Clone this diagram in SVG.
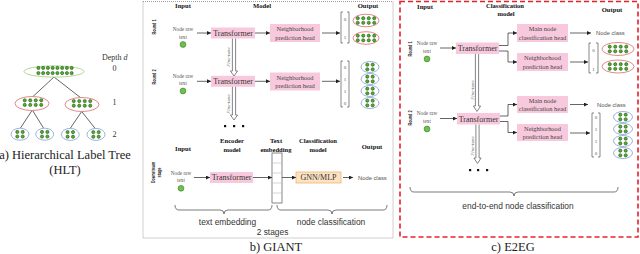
<svg xmlns="http://www.w3.org/2000/svg" xmlns:xlink="http://www.w3.org/1999/xlink" width="640" height="254" viewBox="0 0 640 254">
<style>
.serif{font-family:"Liberation Serif","Times New Roman",Times,"DejaVu Serif",serif}
.hdr{font-family:"Liberation Serif","Times New Roman",Times,"DejaVu Serif",serif;font-weight:bold;font-size:6.6px;fill:#111;text-anchor:middle}
.rnd{font-family:"Liberation Sans",Arial,sans-serif;font-weight:bold;font-size:4.6px;fill:#222;text-anchor:middle}
.raw{font-family:"Liberation Serif","Times New Roman",Times,"DejaVu Serif",serif;font-size:5.2px;fill:#555;text-anchor:middle}
.tf{font-family:"Liberation Serif","Times New Roman",Times,"DejaVu Serif",serif;font-size:8px;fill:#333;text-anchor:middle}
.hd{font-family:"Liberation Serif","Times New Roman",Times,"DejaVu Serif",serif;font-size:6.4px;fill:#444;text-anchor:middle}
.nc{font-family:"Liberation Sans",Arial,sans-serif;font-size:5.8px;fill:#555}
.vn{font-family:"Liberation Serif","Times New Roman",Times,"DejaVu Serif",serif;font-size:5px;fill:#555;text-anchor:middle}
.ft{font-family:"Liberation Serif","Times New Roman",Times,"DejaVu Serif",serif;font-style:italic;font-size:5px;fill:#555;text-anchor:middle}
.big{font-family:"Liberation Sans",Arial,sans-serif;font-size:8.4px;fill:#333;text-anchor:middle}
.cap{font-family:"Liberation Serif","Times New Roman",Times,"DejaVu Serif",serif;font-size:12.5px;fill:#222;text-anchor:middle}
.pink{fill:#f8c9dc}
.orange{fill:#fde3c3;stroke:#f0b46a;stroke-width:0.8}
.eg{fill:#fff;stroke:#a9d18e;stroke-width:0.9}
.er{fill:#fff;stroke:#e07b7b;stroke-width:0.9}
.eb{fill:#fff;stroke:#8eaadb;stroke-width:0.9}
.dot{fill:#4fb02a;stroke:#1d4a10;stroke-width:0.55}
.in{fill:#6cc24a;stroke:#3a7a2a;stroke-width:0.6}
.ln{fill:none;stroke:#333;stroke-width:0.75}
.arr{fill:none;stroke:#333;stroke-width:0.75;marker-end:url(#ah)}
.fta{fill:#fff;stroke:#777;stroke-width:0.9}
.brk{fill:none;stroke:#555;stroke-width:0.7}
.brace{fill:none;stroke:#444;stroke-width:0.7}
.sq{fill:#111}
</style>
<defs>
<marker id="ah" viewBox="0 0 6 6" refX="6" refY="3" markerWidth="4" markerHeight="4" orient="auto" markerUnits="userSpaceOnUse"><path d="M0,0 L6,3 L0,6 z" fill="#222"/></marker>
<circle id="d" r="1.6"/>
<g id="c2">
<use href="#d" class="dot" x="-2.7" y="-2.3"/><use href="#d" class="dot" x="2.7" y="-2.3"/>
<use href="#d" class="dot" x="-2.7" y="2.3"/><use href="#d" class="dot" x="2.7" y="2.3"/>
</g>
<g id="c4">
<use href="#d" class="dot" x="-8.25" y="-2.3"/><use href="#d" class="dot" x="-2.75" y="-2.3"/><use href="#d" class="dot" x="2.75" y="-2.3"/><use href="#d" class="dot" x="8.25" y="-2.3"/>
<use href="#d" class="dot" x="-8.25" y="2.3"/><use href="#d" class="dot" x="-2.75" y="2.3"/><use href="#d" class="dot" x="2.75" y="2.3"/><use href="#d" class="dot" x="8.25" y="2.3"/>
</g>
<g id="c8">
<use href="#d" class="dot" x="-16.6" y="-2.6"/><use href="#d" class="dot" x="-11.85" y="-2.6"/><use href="#d" class="dot" x="-7.1" y="-2.6"/><use href="#d" class="dot" x="-2.35" y="-2.6"/><use href="#d" class="dot" x="2.4" y="-2.6"/><use href="#d" class="dot" x="7.15" y="-2.6"/><use href="#d" class="dot" x="11.9" y="-2.6"/><use href="#d" class="dot" x="16.65" y="-2.6"/>
<use href="#d" class="dot" x="-16.6" y="2.6"/><use href="#d" class="dot" x="-11.85" y="2.6"/><use href="#d" class="dot" x="-7.1" y="2.6"/><use href="#d" class="dot" x="-2.35" y="2.6"/><use href="#d" class="dot" x="2.4" y="2.6"/><use href="#d" class="dot" x="7.15" y="2.6"/><use href="#d" class="dot" x="11.9" y="2.6"/><use href="#d" class="dot" x="16.65" y="2.6"/>
</g>
</defs>
<rect width="640" height="254" fill="#fff"/>

<!-- (a) Hierarchical Label Tree -->
<g id="hlt">
<g id="hlt-edges">
<path class="ln" d="M54,77 L33,96.5 M54,77 L81,98 M32.3,110 L20.5,128 M32.3,110 L43.5,128 M81.7,111.5 L70.3,128.3 M81.7,111.5 L95,128.3"/>
</g>
<g id="hlt-root"><ellipse class="eg" cx="54" cy="71.5" rx="30" ry="5.6"/><use href="#c8" x="55" y="70.5"/></g>
<g id="hlt-d1a"><ellipse class="er" cx="32" cy="103.5" rx="17" ry="7"/><use href="#c4" x="33" y="102.6"/></g>
<g id="hlt-d1b"><ellipse class="er" cx="82" cy="104.5" rx="17" ry="7"/><use href="#c4" x="82" y="103.4"/></g>
<g id="hlt-d2a"><ellipse class="eb" cx="20" cy="134.2" rx="9" ry="6"/><use href="#c2" x="20" y="134.2"/></g>
<g id="hlt-d2b"><ellipse class="eb" cx="44.7" cy="134.2" rx="9" ry="6"/><use href="#c2" x="44.7" y="134.2"/></g>
<g id="hlt-d2c"><ellipse class="eb" cx="70.3" cy="134.4" rx="9" ry="6"/><use href="#c2" x="70.3" y="134.4"/></g>
<g id="hlt-d2d"><ellipse class="eb" cx="96" cy="134.4" rx="9" ry="6"/><use href="#c2" x="96" y="134.4"/></g>
<text class="serif" x="102" y="59.5" font-size="8" fill="#333">Depth <tspan font-style="italic">d</tspan></text>
<text class="serif" x="114.5" y="71" font-size="8" fill="#333" text-anchor="middle">0</text>
<text class="serif" x="114.5" y="104.5" font-size="8" fill="#333" text-anchor="middle">1</text>
<text class="serif" x="114.5" y="137.2" font-size="8" fill="#333" text-anchor="middle">2</text>
<text class="cap" x="65" y="159">a) Hierarchical Label Tree</text>
<text class="cap" x="65" y="173.5">(HLT)</text>
</g>

<!-- (b) GIANT -->
<g id="giant">
<rect x="143" y="1.5" width="250" height="236.5" fill="none" stroke="#888" stroke-width="0.8" stroke-dasharray="1,1"/>
<text class="hdr" x="183" y="7.8">Input</text>
<text class="hdr" x="262" y="7.8">Model</text>
<text class="hdr" x="368" y="7.8">Output</text>
<text class="rnd" transform="translate(156,27) rotate(-90)" textLength="15" lengthAdjust="spacingAndGlyphs">Round 1</text>
<text class="rnd" transform="translate(156,77) rotate(-90)" textLength="15" lengthAdjust="spacingAndGlyphs">Round 2</text>

<g id="g-in1"><text class="raw" x="183" y="30.5">Node raw</text><text class="raw" x="183" y="38.5">text</text><circle class="in" cx="183" cy="44.5" r="2.9"/></g>
<g id="g-tf1"><rect class="pink" x="211" y="27.5" width="44" height="11"/><text class="tf" x="233" y="35.8">Transformer</text></g>
<g id="g-nh1"><rect class="pink" x="270" y="24" width="50" height="18"/><text class="hd" x="295" y="31.2">Neighborhood</text><text class="hd" x="295" y="39.5">prediction head</text></g>
<g id="g-out1">
<path class="brk" d="M343,12 H341 V43 H343 M347,12 H349 V43 H347"/>
<text class="vn" x="345" y="20.8">0</text><text class="vn" x="345" y="38.8">1</text>
<ellipse class="er" cx="366" cy="20.5" rx="13" ry="6.3"/><use href="#c4" x="366" y="20.5"/>
<ellipse class="er" cx="366" cy="38" rx="13" ry="6.3"/><use href="#c4" x="366" y="38"/>
</g>

<g id="g-in2"><text class="raw" x="183" y="77.5">Node raw</text><text class="raw" x="183" y="85">text</text><circle class="in" cx="183" cy="91" r="2.9"/></g>
<g id="g-tf2"><rect class="pink" x="211" y="75.8" width="44" height="11"/><text class="tf" x="233" y="84">Transformer</text></g>
<g id="g-nh2"><rect class="pink" x="270" y="72.5" width="50" height="18"/><text class="hd" x="295" y="79.7">Neighborhood</text><text class="hd" x="295" y="88">prediction head</text></g>
<g id="g-out2">
<path class="brk" d="M343,61 H341 V107 H343 M347,61 H349 V107 H347"/>
<text class="vn" x="345" y="68.8">0</text><text class="vn" x="345" y="81">1</text><text class="vn" x="345" y="93">1</text><text class="vn" x="345" y="104.8">0</text>
<ellipse class="eb" cx="370" cy="67" rx="9" ry="5.5"/><use href="#c2" x="370" y="67"/>
<ellipse class="eb" cx="370" cy="79" rx="9" ry="5.5"/><use href="#c2" x="370" y="79"/>
<ellipse class="eb" cx="370" cy="91" rx="9" ry="5.5"/><use href="#c2" x="370" y="91"/>
<ellipse class="eb" cx="370" cy="103" rx="9" ry="5.5"/><use href="#c2" x="370" y="103"/>
</g>
<g id="g-more"><rect class="sq" x="224" y="125" width="2.2" height="2.2"/><rect class="sq" x="233" y="125" width="2.2" height="2.2"/><rect class="sq" x="242" y="125" width="2.2" height="2.2"/></g>
<text class="ft" transform="translate(229.5,57) rotate(-90)">Fine-tune</text>
<text class="ft" transform="translate(229.5,104) rotate(-90)">Fine-tune</text>

<text class="hdr" x="183" y="150.5">Input</text>
<text class="hdr" x="232" y="143">Encoder</text><text class="hdr" x="232" y="151.5">model</text>
<text class="hdr" x="276" y="143">Text</text><text class="hdr" x="276" y="151.5">embedding</text>
<text class="hdr" x="318" y="143">Classification</text><text class="hdr" x="318" y="151.5">model</text>
<text class="hdr" x="372" y="148.5">Output</text>
<text class="rnd" transform="translate(154.5,172.5) rotate(-90)" textLength="21" lengthAdjust="spacingAndGlyphs">Downstream</text>
<text class="rnd" transform="translate(161,172.5) rotate(-90)" textLength="10" lengthAdjust="spacingAndGlyphs">stage</text>
<g id="g-in3"><text class="raw" x="181" y="174.5">Node raw</text><text class="raw" x="181" y="182.3">text</text><circle class="in" cx="181" cy="188.3" r="2.9"/></g>
<g id="g-tf3"><rect class="pink" x="210" y="172" width="43" height="11"/><text class="tf" x="231.5" y="180.3">Transformer</text></g>
<g id="g-emb"><rect x="272" y="153" width="10" height="50" fill="#fff" stroke="#555" stroke-width="0.7"/><path d="M272,163 H282 M272,173 H282 M272,183 H282 M272,193 H282" stroke="#bbb" stroke-width="0.6"/></g>
<g id="g-gnn"><rect class="orange" x="296" y="172" width="45" height="11"/><text class="tf" x="318.5" y="180.3" font-size="7.2">GNN/MLP</text></g>
<text class="nc" x="358" y="179.5">Node class</text>
<path class="brace" d="M175,205 Q175,210 179,210 H220 Q224,210 224,214 Q224,210 228,210 H268 Q272,210 272,205"/>
<path class="brace" d="M277,205 Q277,210 281,210 H328 Q332,210 332,214 Q332,210 336,210 H383 Q387,210 387,205"/>
<text class="big" x="227.5" y="224.5">text embedding</text>
<text class="big" x="331" y="224.5">node classification</text>
<text class="big" x="272.5" y="234.5">2 stages</text>
<text class="cap" x="276" y="251">b) GIANT</text>
</g>

<!-- (c) E2EG -->
<g id="e2eg">
<rect x="400" y="1.5" width="238" height="235.5" fill="none" stroke="#e8202a" stroke-width="1.6" stroke-dasharray="5,3"/>
<text class="hdr" x="425" y="9">Input</text>
<text class="hdr" x="505" y="7.5">Classification</text><text class="hdr" x="506" y="16">model</text>
<text class="hdr" x="612" y="11.5">Output</text>
<text class="rnd" transform="translate(412,49) rotate(-90)" textLength="15" lengthAdjust="spacingAndGlyphs">Round 1</text>
<text class="rnd" transform="translate(412,118) rotate(-90)" textLength="15" lengthAdjust="spacingAndGlyphs">Round 2</text>

<g id="e-in1"><text class="raw" x="427" y="44.5">Node raw</text><text class="raw" x="427" y="52.5">text</text><circle class="in" cx="427" cy="59" r="2.9"/></g>
<g id="e-tf1"><rect class="pink" x="456" y="42.5" width="43" height="11.5"/><text class="tf" x="477.5" y="51">Transformer</text></g>
<g id="e-main1"><rect class="pink" x="517" y="24" width="51" height="18"/><text class="hd" x="542.5" y="31.2">Main node</text><text class="hd" x="542.5" y="39.5">classification head</text></g>
<g id="e-nh1"><rect class="pink" x="517" y="53" width="51" height="18"/><text class="hd" x="542.5" y="60.2">Neighborhood</text><text class="hd" x="542.5" y="68.5">prediction head</text></g>
<text class="nc" x="596" y="35">Node class</text>
<g id="e-out1">
<path class="brk" d="M591,43 H589 V73 H591 M596,43 H598 V73 H596"/>
<text class="vn" x="593.5" y="51.8">0</text><text class="vn" x="593.5" y="70.5">1</text>
<ellipse class="er" cx="618" cy="49" rx="16" ry="6.5"/><use href="#c4" x="618" y="49"/>
<ellipse class="er" cx="618" cy="66.5" rx="16" ry="6.5"/><use href="#c4" x="618" y="66.5"/>
</g>

<g id="e-in2"><text class="raw" x="427" y="114.5">Node raw</text><text class="raw" x="427" y="122.5">text</text><circle class="in" cx="427" cy="129" r="2.9"/></g>
<g id="e-tf2"><rect class="pink" x="457" y="113" width="43" height="11.5"/><text class="tf" x="478.5" y="121.5">Transformer</text></g>
<g id="e-main2"><rect class="pink" x="517" y="96" width="51" height="17"/><text class="hd" x="542.5" y="102.8">Main node</text><text class="hd" x="542.5" y="110.8">classification head</text></g>
<g id="e-nh2"><rect class="pink" x="517" y="124" width="51" height="17"/><text class="hd" x="542.5" y="130.8">Neighborhood</text><text class="hd" x="542.5" y="138.8">prediction head</text></g>
<text class="nc" x="597" y="106.8">Node class</text>
<g id="e-out2">
<path class="brk" d="M594,113 H592 V157 H594 M598,113 H600 V157 H598"/>
<text class="vn" x="596" y="118.8">0</text><text class="vn" x="596" y="130.8">1</text><text class="vn" x="596" y="142.8">1</text><text class="vn" x="596" y="154.5">0</text>
<ellipse class="eb" cx="623" cy="117" rx="9.5" ry="5.5"/><use href="#c2" x="623" y="117"/>
<ellipse class="eb" cx="623" cy="129" rx="9.5" ry="5.5"/><use href="#c2" x="623" y="129"/>
<ellipse class="eb" cx="623" cy="141" rx="9.5" ry="5.5"/><use href="#c2" x="623" y="141"/>
<ellipse class="eb" cx="623" cy="153" rx="9.5" ry="5.5"/><use href="#c2" x="623" y="153"/>
</g>
<g id="e-more"><rect class="sq" x="469" y="169" width="2.2" height="2.2"/><rect class="sq" x="477" y="169" width="2.2" height="2.2"/><rect class="sq" x="486" y="169" width="2.2" height="2.2"/></g>
<text class="ft" transform="translate(473.5,90) rotate(-90)">Fine-tune</text>
<text class="ft" transform="translate(473.5,146) rotate(-90)">Fine-tune</text>
<path class="brace" d="M410,187 Q410,192 414,192 H510 Q514,192 514,196 Q514,192 518,192 H614 Q618,192 618,187"/>
<text class="big" x="518" y="209">end-to-end node classification</text>
<text class="cap" x="513" y="251">c) E2EG</text>
</g>

<!-- connectors -->
<g id="connectors">
<path class="arr" d="M197,33 H211"/>
<path class="arr" d="M255,33 H270"/>
<path class="arr" d="M322,33 H340"/>
<path class="arr" d="M197,81.3 H211"/>
<path class="arr" d="M255,81.3 H270"/>
<path class="arr" d="M322,81.3 H340"/>
<path class="fta" d="M232.4,38.5 V71 H230.4 L234,76 L237.6,71 H235.6 V38.5"/>
<path class="fta" d="M232.4,86.8 V115 H230.4 L234,120 L237.6,115 H235.6 V86.8"/>
<path class="arr" d="M194,177.5 H210"/>
<path class="arr" d="M253,177.5 H272"/>
<path class="arr" d="M282,177.5 H296"/>
<path class="arr" d="M343,177.5 H353"/>

<path class="arr" d="M440,48 H456"/>
<path class="arr" d="M499,45.5 H508 V33 H517"/>
<path class="arr" d="M499,51 H508 V62 H517"/>
<path class="arr" d="M570,33 H591"/>
<path class="arr" d="M570,62 H588"/>
<path class="arr" d="M440,118.5 H457"/>
<path class="arr" d="M500,116 H508 V104.5 H517"/>
<path class="arr" d="M500,121.5 H508 V132.5 H517"/>
<path class="arr" d="M570,104.5 H588"/>
<path class="arr" d="M570,133 H590"/>
<path class="fta" d="M475.4,54 V106 H473.4 L477,111.5 L480.6,106 H478.6 V54"/>
<path class="fta" d="M475.9,124.5 V158 H473.9 L477.5,163.5 L481.1,158 H479.1 V124.5"/>
</g>
</svg>
